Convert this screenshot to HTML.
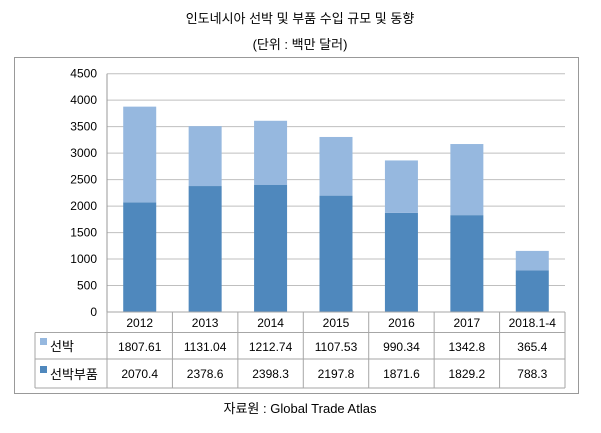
<!DOCTYPE html>
<html><head><meta charset="utf-8"><style>
body{margin:0;background:#fff;font-family:"Liberation Sans","Noto Sans CJK KR",sans-serif;}
</style></head><body>
<svg width="601" height="428" xmlns="http://www.w3.org/2000/svg" font-family="Liberation Sans, Noto Sans CJK KR, sans-serif">
<text x="300" y="23" text-anchor="middle" font-size="13" fill="#000">인도네시아 선박 및 부품 수입 규모 및 동향</text>
<text x="300" y="49" text-anchor="middle" font-size="13" fill="#000">(단위 : 백만 달러)</text>
<rect x="14.5" y="57.5" width="564" height="336" fill="none" stroke="#999"/>
<g id="grid"></g><g id="bars"></g><g id="table"></g>
<text x="300" y="413" text-anchor="middle" font-size="13" fill="#000">자료원 : Global Trade Atlas</text>
<script>
const categories=["2012","2013","2014","2015","2016","2017","2018.1-4"];
const ships=[1807.61,1131.04,1212.74,1107.53,990.34,1342.8,365.4];
const parts=[2070.4,2378.6,2398.3,2197.8,1871.6,1829.2,788.3];
const shipLabels=["1807.61","1131.04","1212.74","1107.53","990.34","1342.8","365.4"];
const partLabels=["2070.4","2378.6","2398.3","2197.8","1871.6","1829.2","788.3"];
const ticks=[0,500,1000,1500,2000,2500,3000,3500,4000,4500];
const NS="http://www.w3.org/2000/svg";
const L=107,R=565,T=73.7,B=312,MAX=4500;
const cw=(R-L)/categories.length;
const y=v=>B-(v/MAX)*(B-T);
const xc=i=>L+cw*(i+0.5);
function mk(t,a,p,txt){const e=document.createElementNS(NS,t);for(const k in a)e.setAttribute(k,a[k]);if(txt!==undefined)e.textContent=txt;p.appendChild(e);return e;}
const g=document.getElementById('grid'),b=document.getElementById('bars'),tb=document.getElementById('table');
ticks.forEach(v=>{
 const ln=mk('line',{x1:L,x2:R,y1:y(v),y2:y(v),stroke:'#bfbfbf'},g);
 
 
 const t=mk('text',{x:L-10,y:y(v)+4,'text-anchor':'end','font-size':12,fill:'#000'},g,String(v));
 
 
});
mk('line',{x1:L,x2:L,y1:T,y2:B,stroke:'#999'},g);
const bw=33;
categories.forEach((c,i)=>{
 const r1=mk('rect',{x:xc(i)-bw/2,y:y(parts[i]),width:bw,height:B-y(parts[i]),fill:'#4f88bd'},b);
 
 
 const r2=mk('rect',{x:xc(i)-bw/2,y:y(parts[i]+ships[i]),width:bw,height:y(parts[i])-y(parts[i]+ships[i]),fill:'#96b8df'},b);
 
 
});
// table
const rows=[312,332.5,359,388],TL=35;
const st='#a6a6a6';
mk('line',{x1:L,x2:R,y1:rows[0],y2:rows[0],stroke:st},tb);
for(let k=1;k<4;k++)mk('line',{x1:TL,x2:R,y1:rows[k],y2:rows[k],stroke:st},tb);
mk('line',{x1:TL,x2:TL,y1:rows[1],y2:rows[3],stroke:st},tb);
for(let i=0;i<=categories.length;i++)mk('line',{x1:L+cw*i,x2:L+cw*i,y1:rows[0],y2:rows[3],stroke:st},tb);
categories.forEach((c,i)=>{
 const t=mk('text',{x:xc(i),y:327,'text-anchor':'middle','font-size':12,fill:'#000'},tb,c);
 
 
 const a=mk('text',{x:xc(i),y:351,'text-anchor':'middle','font-size':12,fill:'#000'},tb,shipLabels[i]);
 
 
 const d=mk('text',{x:xc(i),y:378,'text-anchor':'middle','font-size':12,fill:'#000'},tb,partLabels[i]);
 
 
});
mk('rect',{x:40,y:338,width:7,height:7,fill:'#96b8df'},tb);
const l1=mk('text',{x:50,y:351,'font-size':13,fill:'#000'},tb,'선박');


mk('rect',{x:40,y:366,width:7,height:7,fill:'#4f88bd'},tb);
const l2=mk('text',{x:50,y:379,'font-size':13,fill:'#000'},tb,'선박부품');


</script>
</svg>
</body></html>
